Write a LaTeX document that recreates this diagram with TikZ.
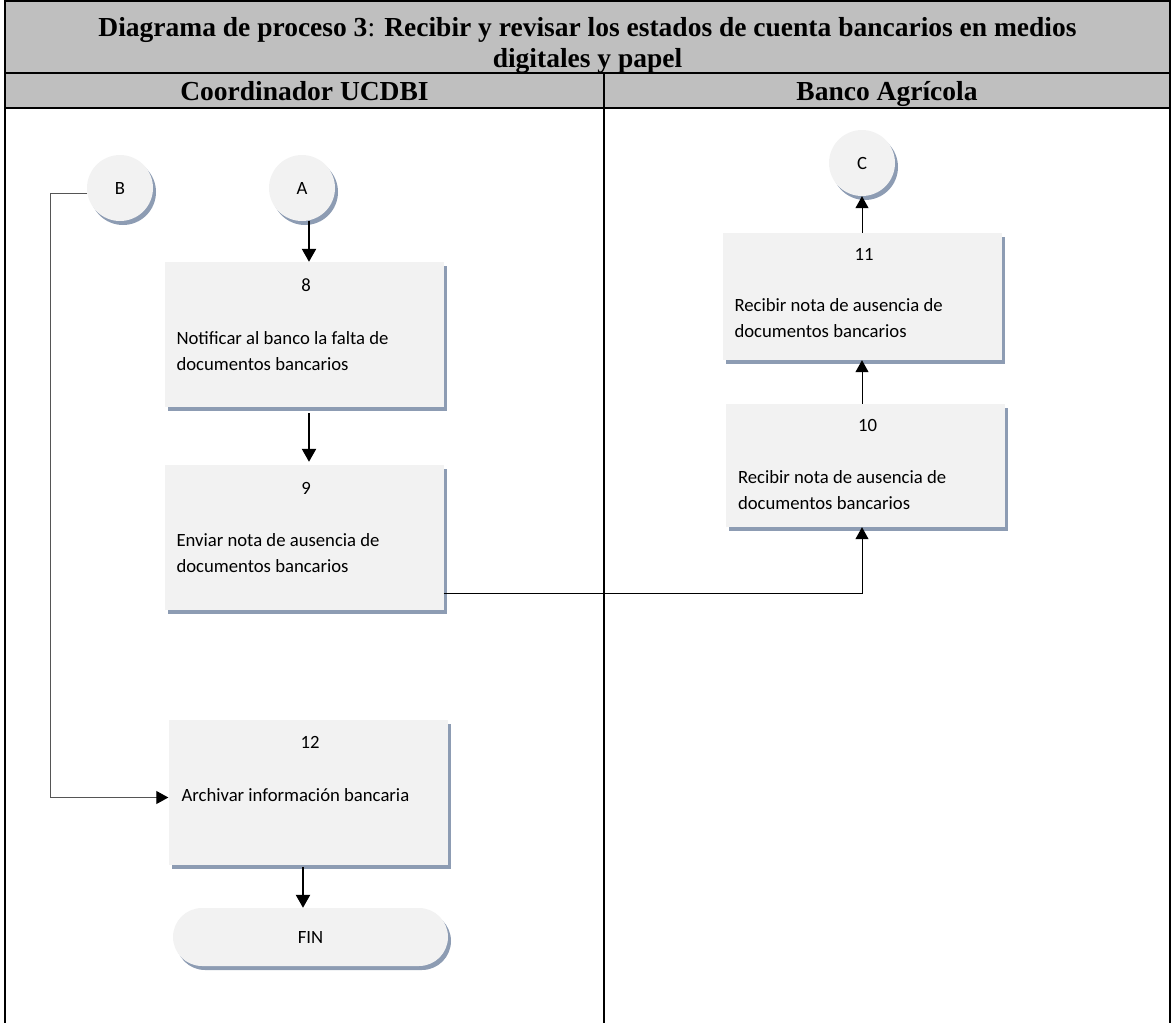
\documentclass[tikz,border=0pt]{standalone}
\usepackage{fontspec}
\setmainfont{Liberation Serif}
\newfontfamily\bodyfont{Carlito}
\usetikzlibrary{arrows.meta,shadows}

\definecolor{headgray}{RGB}{191,191,191}
\definecolor{boxfill}{RGB}{242,242,242}
\definecolor{boxshade}{RGB}{141,156,179}
\definecolor{linkgray}{RGB}{85,85,85}

\begin{document}
\begin{tikzpicture}[x=1pt,y=-1pt,
  shaded/.style={fill=boxfill, draw=none, inner sep=0pt,
    drop shadow={shadow xshift=3pt, shadow yshift=-4pt, fill=boxshade, opacity=1}},
  procbox/.style={shaded, rectangle, minimum width=279pt, minimum height=#1},
  refcircle/.style={shaded, circle, minimum size=66pt, font=\bodyfont\fontsize{18.7}{22}\selectfont},
  endcap/.style={shaded, rectangle, rounded corners=29pt, minimum width=275pt, minimum height=58pt,
    font=\bodyfont\fontsize{18.7}{22}\selectfont},
  stepnum/.style={anchor=base, inner sep=0pt, font=\bodyfont\fontsize{18.7}{22}\selectfont},
  steptext/.style={anchor=base west, inner sep=0pt, align=left, font=\bodyfont\fontsize{18.7}{25.5}\selectfont},
  headtext/.style={anchor=base, inner sep=0pt, font=\bfseries\fontsize{27.5}{31}\selectfont},
  rule/.style={line width=2pt, black},
  thickarrow/.style={line width=2.3pt, -{Triangle[width=14pt,length=13pt]}},
  thinarrow/.style={line width=1pt, -{Triangle[width=13pt,length=12pt,black]}}
]
\useasboundingbox (0,0) rectangle (1171,1023);

% header band and table grid
\fill[headgray] (5,1) rectangle (1170,108);
\draw[rule] (5,1) -- (1170,1);
\draw[rule] (5,0) -- (5,1023);
\draw[rule] (1170,0) -- (1170,1023);
\draw[rule] (5,73) -- (1170,73);
\draw[rule] (5,108) -- (1170,108);
\draw[rule] (604,73) -- (604,1023);

\node[headtext] (title1) at (587.5,36) {Diagrama de proceso 3{\mdseries :} Recibir y revisar los estados de cuenta bancarios en medios};
\node[headtext] (title2) at (587.5,67) {digitales y papel};
\node[headtext] (lane1) at (304.5,100) {Coordinador UCDBI};
\node[headtext] (lane2) at (887,100) {Banco Agrícola};

% off-page references
\node[refcircle] (B) at (120,188) {B};
\node[refcircle] (A) at (302,188) {A};
\node[refcircle] (C) at (862,163) {C};

% process steps (two-line texts are anchored on the baseline of their last line)
\node[procbox=145pt] (b8) at (304,334.5) {};
\node[stepnum] (n8) at ([xshift=2pt,yshift=-30pt]b8.north) {8};
\node[steptext] (t8) at ([xshift=12pt,yshift=-108.5pt]b8.north west) {Notificar al banco la falta de\\documentos bancarios};

\node[procbox=145pt] (b9) at (304,537.5) {};
\node[stepnum] (n9) at ([xshift=2pt,yshift=-30pt]b9.north) {9};
\node[steptext] (t9) at ([xshift=12pt,yshift=-107.5pt]b9.north west) {Enviar nota de ausencia de\\documentos bancarios};

\node[procbox=123pt] (b10) at (865.5,465.5) {};
\node[stepnum] (n10) at ([xshift=2pt,yshift=-28pt]b10.north) {10};
\node[steptext] (t10) at ([xshift=12pt,yshift=-105.5pt]b10.north west) {Recibir nota de ausencia de\\documentos bancarios};

\node[procbox=127pt] (b11) at (862,296.5) {};
\node[stepnum] (n11) at ([xshift=2pt,yshift=-28pt]b11.north) {11};
\node[steptext] (t11) at ([xshift=12pt,yshift=-104.5pt]b11.north west) {Recibir nota de ausencia de\\documentos bancarios};

\node[procbox=145pt] (b12) at (308,792.5) {};
\node[stepnum] (n12) at ([xshift=2pt,yshift=-29pt]b12.north) {12};
\node[steptext] (t12) at ([xshift=13pt,yshift=-82pt]b12.north west) {Archivar información bancaria};

\node[endcap] (fin) at (310.5,937) {FIN};

% connectors
\coordinate (bturn) at (50,193);
\draw[thickarrow] ([xshift=7pt]A.south) -- ([xshift=7pt]A.south |- b8.north);
\draw[thickarrow] ([xshift=5pt,yshift=-6pt]b8.south) -- ([xshift=5pt,yshift=3pt]b8.south |- b9.north);
\draw[thinarrow] ([yshift=-56pt]b9.east) -| ([xshift=-3.5pt]b10.south);
\draw[thinarrow] (b11.south |- b10.north) -- (b11.south);
\draw[thinarrow] (b11.north) -- (C.south);
\draw[thinarrow, linkgray] (B.190) -- (B.190 -| bturn) |- ([yshift=-5pt]b12.west);
\draw[thickarrow] ([xshift=-5pt,yshift=-2pt]b12.south) -- ([xshift=-5pt]b12.south |- fin.north);
\end{tikzpicture}
\end{document}
